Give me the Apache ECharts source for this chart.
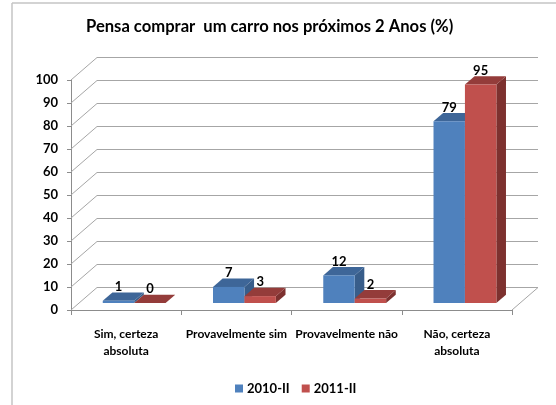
<!DOCTYPE html>
<html>
<head>
<meta charset="utf-8">
<script src="https://cdn.jsdelivr.net/npm/echarts@6/dist/echarts.min.js"></script>
<style>
  html, body { margin: 0; padding: 0; background: #fff; }
  #main { width: 556px; height: 405px; }
</style>
</head>
<body>
<div id="main"></div>
<script>
var categories = ['Sim, certeza\nabsoluta', 'Provavelmente sim', 'Provavelmente não', 'Não, certeza\nabsoluta'];
var seriesNames = ['2010-II', '2011-II'];
var values2010 = [1, 7, 12, 79];
var values2011 = [0, 3, 2, 95];
var yTicks = [0, 10, 20, 30, 40, 50, 60, 70, 80, 90, 100];

// depth of the 3d box (px) and the slice of it that the bars take
var DX = 26, DY = -22.5;
var F0 = 0.31, FD = 0.37;
var FONT = 'Lato';

var palette = [
    { front: '#4F81BD', top: '#3E6698', side: '#385D8A' },
    { front: '#C0504D', top: '#943C3A', side: '#7D312F' }
];

var chart = echarts.init(document.getElementById('main'));

function frameItem(params, api) {
    var p = api.coord([0, api.value(1)]);
    var band = api.size([1, 0])[0];
    var xl = p[0] - band / 2;
    var xr = api.coord([categories.length - 1, 0])[0] + band / 2;
    var y = p[1];
    var pts = [[xl, y], [xl + DX, y + DY], [xr + DX, y + DY]];
    var children = [{
        type: 'polyline',
        shape: { points: pts },
        style: { stroke: '#A6A6A6', lineWidth: 1, fill: null }
    }];
    if (api.value(1) === 0) {
        children.push({
            type: 'line',
            shape: { x1: xr, y1: y, x2: xr + DX, y2: y + DY },
            style: { stroke: '#A6A6A6', lineWidth: 1 }
        });
    }
    return { type: 'group', children: children, silent: true };
}

function barRenderer(si) {
    return function (params, api) {
        var i = api.value(0), v = api.value(1);
        var c = api.coord([i, v]);
        var base = api.coord([i, 0]);
        var band = api.size([1, 0])[0];
        var w = band * 0.285;
        var fx = DX * F0, fy = DY * F0;
        var bx = DX * FD, by = DY * FD;
        var x0 = c[0] + (si === 0 ? -w : 0) + fx;
        var x1 = x0 + w;
        var ty = c[1] + fy;
        var byy = base[1] + fy;
        var col = palette[si];
        return {
            type: 'group',
            children: [
                {
                    type: 'polygon',
                    shape: { points: [[x1, ty], [x1 + bx, ty + by], [x1 + bx, byy + by], [x1, byy]] },
                    style: { fill: col.side }
                },
                {
                    type: 'polygon',
                    shape: { points: [[x0, ty], [x1, ty], [x1 + bx, ty + by], [x0 + bx, ty + by]] },
                    style: { fill: col.top }
                },
                {
                    type: 'rect',
                    shape: { x: x0, y: ty, width: w, height: byy - ty },
                    style: { fill: col.front }
                },
                {
                    type: 'text',
                    style: {
                        text: String(v), x: x0 + w / 2, y: ty - 14,
                        align: 'center', verticalAlign: 'middle',
                        fill: '#000', font: 'bold 13px ' + FONT
                    }
                }
            ]
        };
    };
}

var option = {
    animation: false,
    backgroundColor: '#fff',
    textStyle: { fontFamily: FONT },
    graphic: [
        { type: 'line', shape: { x1: 12, y1: 3, x2: 12, y2: 405 }, style: { stroke: '#C4C4C4', lineWidth: 1.5 } },
        { type: 'line', shape: { x1: 12, y1: 3, x2: 556, y2: 3 }, style: { stroke: '#C4C4C4', lineWidth: 1.5 } },
        {
            type: 'text', left: 86, top: 18,
            style: {
                text: 'Pensa comprar  um carro nos próximos 2 Anos (%)',
                font: 'bold 16.6px ' + FONT, fill: '#000'
            }
        }
    ],
    legend: {
        data: seriesNames,
        left: 230, top: 377,
        icon: 'rect', itemWidth: 8, itemHeight: 8, itemGap: 12,
        textStyle: { fontFamily: FONT, fontWeight: 'bold', fontSize: 13, color: '#000', padding: [0, 0, 0, -1] }
    },
    grid: { left: 71, right: 44, top: 80, bottom: 95 },
    xAxis: {
        type: 'category',
        data: categories,
        axisLine: { show: true, lineStyle: { color: '#8C8C8C' } },
        axisTick: { show: true, length: 5, lineStyle: { color: '#8C8C8C' } },
        axisLabel: {
            color: '#000', fontFamily: FONT, fontWeight: 'bold', fontSize: 12,
            margin: 16, lineHeight: 17, interval: 0
        }
    },
    yAxis: {
        type: 'value',
        min: 0, max: 100, interval: 10,
        axisLine: { show: true, lineStyle: { color: '#8C8C8C' } },
        axisTick: { show: true, length: 4, lineStyle: { color: '#8C8C8C' } },
        splitLine: { show: false },
        axisLabel: { color: '#000', fontFamily: FONT, fontWeight: 'bold', fontSize: 13, margin: 13 }
    },
    series: [
        {
            type: 'custom', name: 'frame', silent: true, clip: false, z: 1,
            renderItem: frameItem,
            data: yTicks.map(function (v) { return [0, v]; })
        },
        {
            type: 'custom', name: seriesNames[0], clip: false, z: 2,
            itemStyle: { color: palette[0].front },
            renderItem: barRenderer(0),
            data: values2010.map(function (v, i) { return [i, v]; })
        },
        {
            type: 'custom', name: seriesNames[1], clip: false, z: 3,
            itemStyle: { color: palette[1].front },
            renderItem: barRenderer(1),
            data: values2011.map(function (v, i) { return [i, v]; })
        }
    ]
};

chart.setOption(option);
</script>
</body>
</html>
